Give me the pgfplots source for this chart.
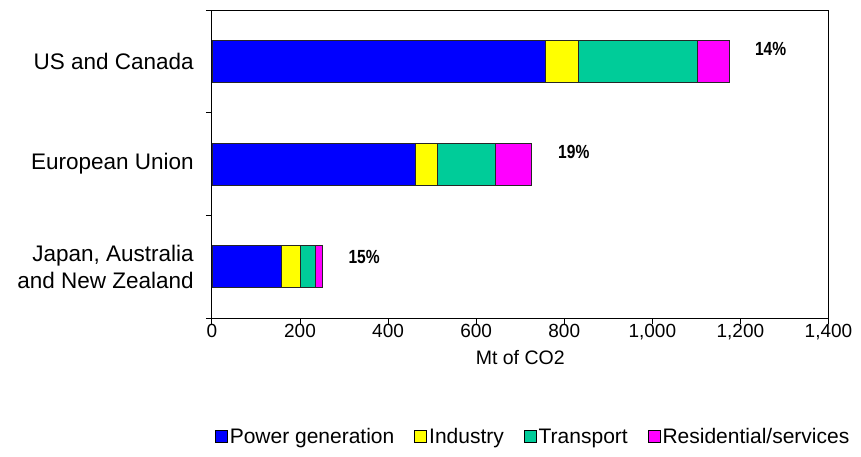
\documentclass[border=0pt]{standalone}
\usepackage{pgfplots}
\pgfplotsset{compat=1.18}
\usepackage{fontspec}
\setmainfont{Liberation Sans}
\newfontfamily\narrowfont{Liberation Sans}[FakeStretch=0.82]
\definecolor{cPower}{HTML}{0000FF}
\definecolor{cInd}{HTML}{FFFF00}
\definecolor{cTrans}{HTML}{00CC99}
\definecolor{cRes}{HTML}{FF00FF}
\pgfplotsset{sqlegend/.style={legend image code/.code={\draw[##1,draw=black,line width=0.8pt] (0pt,-6pt) rectangle (12pt,6pt);}}}
\begin{document}
\begin{tikzpicture}
\path[use as bounding box] (0,0) rectangle (861pt,456pt);
\begin{axis}[
  at={(211.9pt,138pt)}, anchor=south west,
  scale only axis, width=616.6pt, height=308pt,
  xbar stacked, bar width=42pt,
  xmin=0, xmax=1400, xtick={0,200,...,1400},
  ymin=-0.5, ymax=2.5,
  ytick={-0.5,0.5,1.5,2.5}, yticklabels={,,,},
  extra y ticks={0,1,2},
  extra y tick labels={{Japan, Australia\\and New Zealand},{European Union},{US and Canada}},
  extra y tick style={major tick length=0pt},
  tick align=outside, major tick length=6pt,
  xtick pos=bottom, ytick pos=left,
  axis line style={line width=0.9pt}, tick style={line width=0.9pt, black},
  /pgf/number format/assume math mode=true,
  /pgf/number format/1000 sep={,},
  xticklabel style={font=\fontsize{19}{22}\selectfont, yshift=3pt},
  yticklabel style={font=\fontsize{22.5}{27}\selectfont, align=right, inner sep=0pt, xshift=-18pt},
  xlabel={Mt of CO2},
  xlabel style={font=\fontsize{19.5}{22}\selectfont, at={(axis description cs:0.5,-0.127)}, anchor=center},
  every axis plot/.append style={draw=black!85, line width=0.7pt},
  legend columns=4,
  legend style={draw=none, at={(0.521,-0.386)}, anchor=center, font=\fontsize{21}{24}\selectfont,
    /tikz/every even column/.append style={column sep=18pt}},
]
\addplot[fill=cPower, sqlegend] coordinates {(158,0) (463,1) (758,2)};
\addplot[fill=cInd, sqlegend] coordinates {(43,0) (50,1) (75,2)};
\addplot[fill=cTrans, sqlegend] coordinates {(35,0) (131,1) (270,2)};
\addplot[fill=cRes, sqlegend] coordinates {(14,0) (82,1) (71,2)};
\legend{Power generation, Industry, Transport, Residential/services}
\node[anchor=west, font=\narrowfont\bfseries\fontsize{19}{22}\selectfont, xshift=23pt, yshift=12pt] at (axis cs:1173,2) {14\%};
\node[anchor=west, font=\narrowfont\bfseries\fontsize{19}{22}\selectfont, xshift=23pt, yshift=12pt] at (axis cs:726,1) {19\%};
\node[anchor=west, font=\narrowfont\bfseries\fontsize{19}{22}\selectfont, xshift=23pt, yshift=10pt] at (axis cs:250,0) {15\%};
\end{axis}
\end{tikzpicture}
\end{document}
